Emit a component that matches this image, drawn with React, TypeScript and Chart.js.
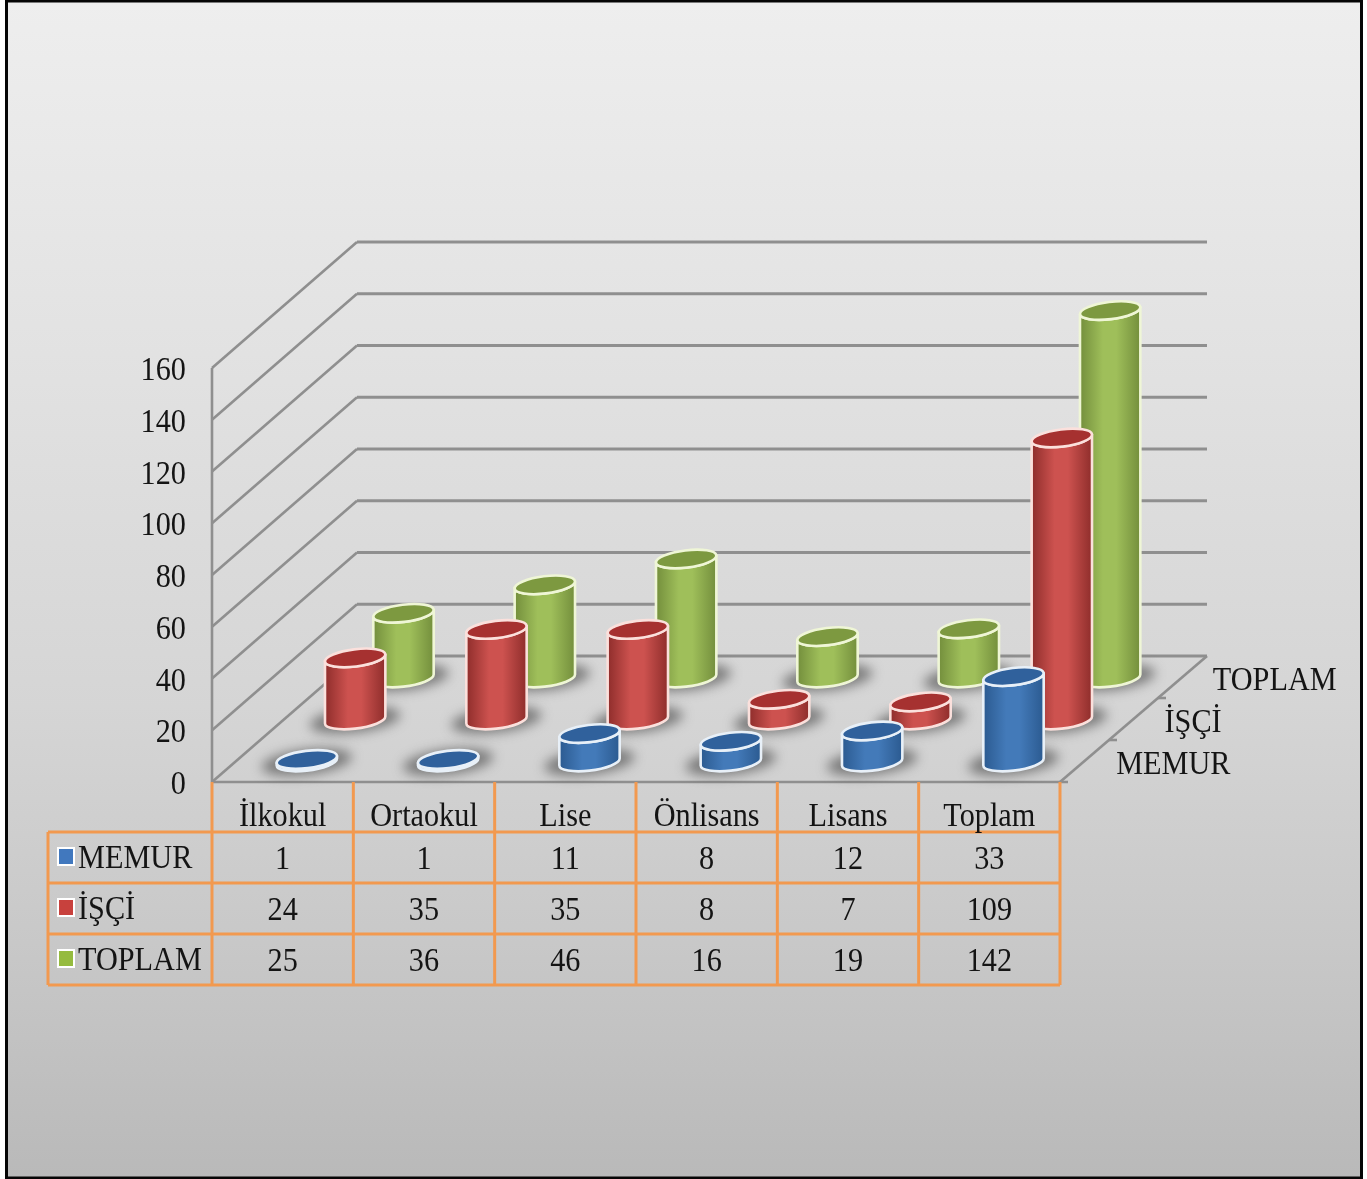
import React, { useEffect, useRef } from "react";
import { Chart, registerables } from "chart.js";

Chart.register(...registerables);

const categories = ["İlkokul", "Ortaokul", "Lise", "Önlisans", "Lisans", "Toplam"];
const memur = [1, 1, 11, 8, 12, 33];
const isci = [24, 35, 35, 8, 7, 109];
const toplam = [25, 36, 46, 16, 19, 142];

const SERIES_STYLE = [
  { edge: "#2b5a90", mid: "#437ab9", top: "#30619c", line: "#e8f0f8", swatch: "#4178be" },
  { edge: "#8e2d2b", mid: "#cd524f", top: "#a63130", line: "#fbe0dc", swatch: "#c8413d" },
  { edge: "#738e3c", mid: "#9fbf5a", top: "#7d9940", line: "#eff6d6", swatch: "#95bb3f" },
];

const W = 1367;
const H = 1179;
const DEPTH_X = 147;
const DEPTH_Y = 126;
const TILT = (-7 * Math.PI) / 180;
const RY = 8.6;
const GRID = "#8f8f8f";
const ORANGE = "#f2994f";
const INK = "#141414";
const FONT = '34px "Liberation Serif"';

function label(ctx: CanvasRenderingContext2D, text: string, x: number, y: number, align: CanvasTextAlign) {
  ctx.save();
  ctx.translate(x, y);
  ctx.scale(0.89, 1);
  ctx.font = FONT;
  ctx.fillStyle = INK;
  ctx.textAlign = align;
  ctx.textBaseline = "alphabetic";
  ctx.fillText(text, 0, 0);
  ctx.restore();
}

function line(ctx: CanvasRenderingContext2D, x1: number, y1: number, x2: number, y2: number) {
  ctx.beginPath();
  ctx.moveTo(x1, y1);
  ctx.lineTo(x2, y2);
  ctx.stroke();
}

function cylinder(
  ctx: CanvasRenderingContext2D,
  cx: number,
  topY: number,
  baseY: number,
  rx: number,
  style: (typeof SERIES_STYLE)[number]
) {
  const t = Math.atan((-RY / rx) * Math.tan(TILT));
  const ex = rx * Math.cos(t) * Math.cos(TILT) - RY * Math.sin(t) * Math.sin(TILT);
  const ey = rx * Math.cos(t) * Math.sin(TILT) + RY * Math.sin(t) * Math.cos(TILT);

  ctx.save();
  ctx.filter = "blur(6px)";
  ctx.fillStyle = "rgba(70,70,70,0.62)";
  ctx.beginPath();
  ctx.ellipse(cx, baseY, rx + 15, RY + 4, TILT, 0, Math.PI * 2);
  ctx.fill();
  ctx.restore();

  const grad = ctx.createLinearGradient(cx - rx, 0, cx + rx, 0);
  grad.addColorStop(0, style.edge);
  grad.addColorStop(0.38, style.mid);
  grad.addColorStop(0.6, style.mid);
  grad.addColorStop(1, style.edge);

  ctx.lineWidth = 2.6;
  ctx.strokeStyle = style.line;
  ctx.lineJoin = "round";

  ctx.beginPath();
  ctx.moveTo(cx + ex, topY + ey);
  ctx.lineTo(cx + ex, baseY + ey);
  ctx.ellipse(cx, baseY, rx, RY, TILT, t, t + Math.PI);
  ctx.lineTo(cx - ex, topY - ey);
  ctx.ellipse(cx, topY, rx, RY, TILT, t + Math.PI, t, true);
  ctx.closePath();
  ctx.fillStyle = grad;
  ctx.fill();
  ctx.stroke();

  ctx.beginPath();
  ctx.ellipse(cx, topY, rx, RY, TILT, 0, Math.PI * 2);
  ctx.fillStyle = style.top;
  ctx.fill();
  ctx.stroke();
}

const scene = {
  id: "scene",
  beforeDraw(chart: any) {
    const { ctx, chartArea: a, scales } = chart;
    const y = scales.y;
    ctx.save();
    ctx.fillStyle = "#ffffff";
    ctx.fillRect(0, 0, W, H);
    const bg = ctx.createLinearGradient(0, 0, 0, H);
    bg.addColorStop(0, "#eeeeee");
    bg.addColorStop(0.3, "#e2e2e2");
    bg.addColorStop(0.6, "#d5d5d5");
    bg.addColorStop(0.8, "#c8c8c8");
    bg.addColorStop(1, "#b9b9b9");
    ctx.fillStyle = bg;
    ctx.fillRect(6, 1, 1355, 1177);
    ctx.strokeStyle = "#050505";
    ctx.lineWidth = 3;
    ctx.strokeRect(6.5, 1, 1355, 1177);

    ctx.strokeStyle = GRID;
    ctx.lineWidth = 2.6;
    line(ctx, a.left, a.top, a.left, a.bottom);
    line(ctx, a.left, a.bottom, a.right + 8, a.bottom);
    line(ctx, a.right, a.bottom, a.right + DEPTH_X, a.bottom - DEPTH_Y);
    y.ticks.forEach((tick: any) => {
      const py = y.getPixelForValue(tick.value);
      line(ctx, a.left, py, a.left + DEPTH_X - 2, py - DEPTH_Y);
      ctx.lineWidth = 3;
      line(ctx, a.left + DEPTH_X - 2, py - DEPTH_Y, a.right + DEPTH_X, py - DEPTH_Y);
      ctx.lineWidth = 2.6;
      label(ctx, String(tick.value), 186, py + 12, "right");
    });
    [1 / 3, 2 / 3].forEach((z) => {
      const px = a.right + DEPTH_X * z;
      const py = a.bottom - DEPTH_Y * z;
      line(ctx, px, py, px + 8, py);
    });
    ctx.restore();
  },
  beforeDatasetDraw(chart: any, args: any) {
    const { ctx } = chart;
    const z = (args.index + 0.5) / 3;
    const style = SERIES_STYLE[args.index];
    ctx.save();
    args.meta.data.forEach((bar: any) => {
      const dx = 145 * z;
      const dy = DEPTH_Y * z - 1;
      cylinder(ctx, bar.x + dx, bar.y - dy, bar.base - dy, bar.width / 2, style);
    });
    ctx.restore();
    return false;
  },
  afterDraw(chart: any) {
    const { ctx, chartArea: a, scales, data } = chart;
    const x = scales.x;
    const step = x.getPixelForValue(1) - x.getPixelForValue(0);
    const rowH = 51;
    const headH = 50;
    const rowsTop = a.bottom + headH;
    const tableBottom = rowsTop + rowH * data.datasets.length;
    const legendLeft = 48;

    ctx.save();
    ctx.strokeStyle = ORANGE;
    ctx.lineWidth = 3;
    categories.forEach((_, i) => {
      const px = a.left + step * i;
      line(ctx, px, a.bottom, px, tableBottom);
    });
    line(ctx, a.right, a.bottom, a.right, tableBottom);
    line(ctx, legendLeft, rowsTop, legendLeft, tableBottom);
    for (let r = 0; r <= data.datasets.length; r++) {
      const py = rowsTop + rowH * r;
      line(ctx, legendLeft, py, a.right, py);
    }

    data.labels.forEach((text: string, i: number) => {
      label(ctx, text, x.getPixelForValue(i), a.bottom + 44, "center");
    });

    data.datasets.forEach((ds: any, r: number) => {
      const py = rowsTop + rowH * r;
      ctx.fillStyle = "#ffffff";
      ctx.fillRect(57, py + 15, 18, 19);
      ctx.fillStyle = SERIES_STYLE[r].swatch;
      ctx.fillRect(59, py + 17, 14, 15);
      label(ctx, ds.label, 78, py + 36, "left");
      ds.data.forEach((v: number, i: number) => {
        label(ctx, String(v), x.getPixelForValue(i), py + 37, "center");
      });
      const z = (r + 0.5) / 3;
      label(ctx, ds.label, a.right + 145 * z + 32, a.bottom - DEPTH_Y * z + 13, "left");
    });
    ctx.restore();
  },
};

export default function App() {
  const ref = useRef<HTMLCanvasElement>(null);
  useEffect(() => {
    const chart = new Chart(ref.current as HTMLCanvasElement, {
      type: "bar",
      data: {
        labels: categories,
        datasets: [
          { label: "MEMUR", data: memur },
          { label: "İŞÇİ", data: isci },
          { label: "TOPLAM", data: toplam },
        ],
      },
      options: {
        animation: false,
        responsive: false,
        devicePixelRatio: 1,
        layout: { padding: { left: 212, right: W - 1060, top: 368, bottom: H - 782 } },
        datasets: { bar: { grouped: false, categoryPercentage: 1, barPercentage: 0.43 } },
        plugins: { legend: { display: false }, tooltip: { enabled: false } },
        scales: {
          x: { display: false, type: "category" },
          y: { display: false, min: 0, max: 160, ticks: { stepSize: 20 } },
        },
      },
      plugins: [scene],
    } as any);
    return () => chart.destroy();
  }, []);
  return (
    <div style={{ position: "absolute", left: 0, top: 0, width: W, height: H }}>
      <canvas ref={ref} width={W} height={H} style={{ display: "block", filter: "blur(0.6px)" }} />
    </div>
  );
}
